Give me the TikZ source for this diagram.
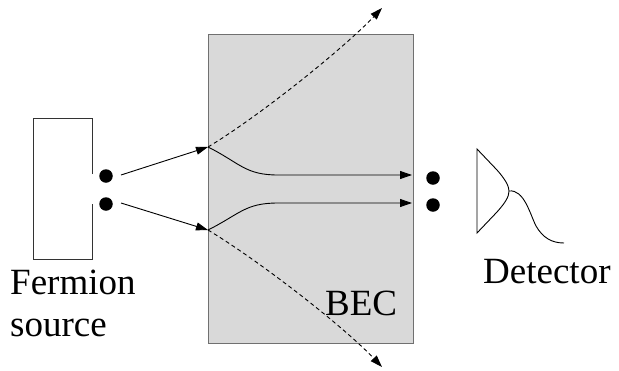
\documentclass[tikz,border=0pt]{standalone}
\usepackage{fontspec}
\setmainfont{Liberation Serif}
\usetikzlibrary{arrows.meta}
\definecolor{becfill}{HTML}{D9D9D9}
\definecolor{becline}{HTML}{707070}
\begin{document}
\begin{tikzpicture}[x=1pt,y=-1pt,
  lbl/.style={anchor=base west,inner sep=0pt,font=\fontsize{37}{40}\selectfont},
  partdot/.style={circle,fill=black,inner sep=0pt,minimum size=13.5pt},
  ray/.style={line width=0.9pt,-{Triangle[length=12pt,width=8pt]}},
  dray/.style={ray,dash pattern=on 4pt off 3pt},
  thin line/.style={line width=0.9pt}]
\useasboundingbox (0,0) rectangle (619,370);
% BEC
\draw[fill=becfill,draw=becline,line width=1pt] (208,34) rectangle (413,343);
% source box with gap
\draw[thin line,draw=black!80] (92,174) -- (92,118) -- (33,118) -- (33,259) -- (92,259) -- (92,204);
% dots
\node[partdot] (s1) at (106,176) {};
\node[partdot] (s2) at (106,204) {};
\node[partdot] (d1) at (433,178) {};
\node[partdot] (d2) at (433,205) {};
% coordinates
\coordinate (a1) at (121,175);
\coordinate (a2) at (121,203);
\coordinate (e1) at (208,147);
\coordinate (e2) at (208,230);
\coordinate (t1) at (412,175);
\coordinate (t2) at (412,203);
\coordinate (u) at (382,8);
\coordinate (l) at (382,367);
% incoming rays
\draw[ray] (a1) -- (e1);
\draw[ray] (a2) -- (e2);
% transmitted
\draw[ray] (e1) .. controls (240,163) and (245,175) .. (278,175) -- (t1);
\draw[ray] (e2) .. controls (240,214) and (245,203) .. (278,203) -- (t2);
% reflected dashed
\draw[dray] (e1) .. controls (258,117) and (342,50) .. (u);
\draw[dray] (e2) .. controls (258,260) and (342,325) .. (l);
% detector
\coordinate (tip) at (509,191);
\coordinate (tail) at (564,243);
\draw[thin line] (477,233) -- (477,149) -- (497,170) .. controls (505,179) and (509,186) .. (tip)
  .. controls (509,197) and (505,203) .. (497,212) -- cycle;
\draw[thin line] (tip) .. controls (524,189) and (530,214) .. (536,226) .. controls (543,238) and (552,243) .. (tail);
% labels
\node[lbl] (fer) at (10,294) {Fermion};
\node[lbl] (src) at (10,336) {source};
\node[lbl] (det) at (483,283) {Detector};
\node[lbl] (bec) at (325,315) {BEC};
\end{tikzpicture}
\end{document}
